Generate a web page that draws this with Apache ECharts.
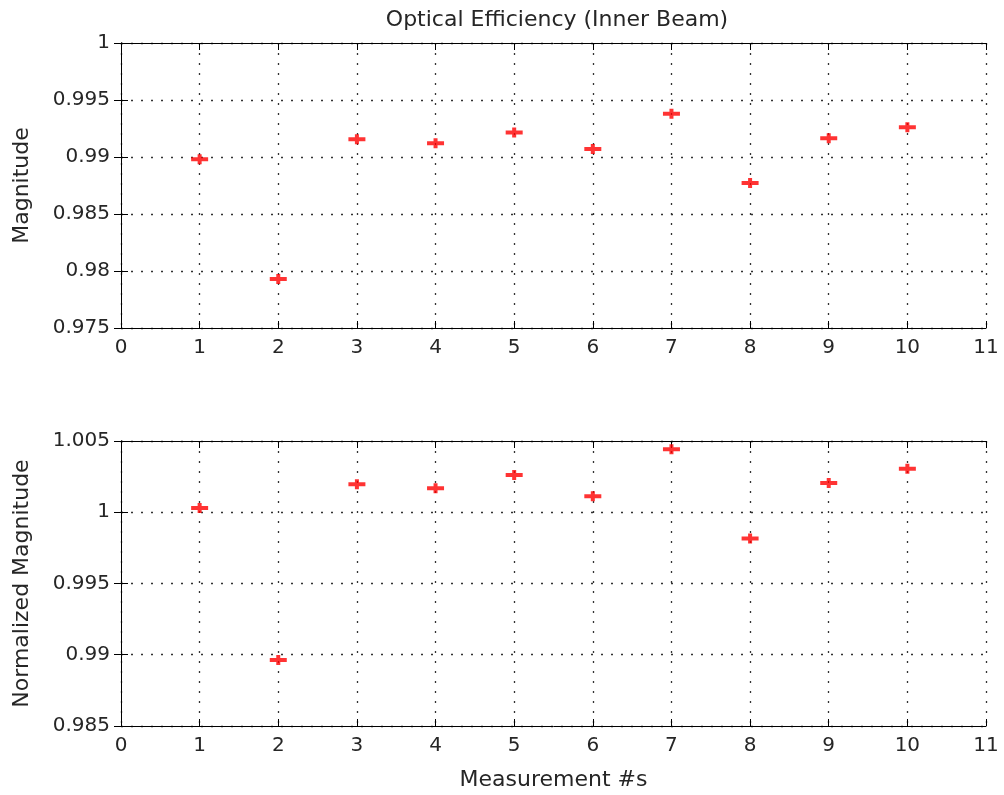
<!DOCTYPE html>
<html>
<head>
<meta charset="utf-8">
<script src="https://cdn.jsdelivr.net/npm/echarts@6/dist/echarts.min.js"></script>
<style>
  html, body { margin: 0; padding: 0; background: #fff; }
  #main { width: 1004px; height: 795px; }
</style>
</head>
<body>
<div id="main"></div>
<script>
// measurement numbers
var measurements = [1, 2, 3, 4, 5, 6, 7, 8, 9, 10];
// optical efficiency, inner beam
var magnitude = [0.9898, 0.9793, 0.99155, 0.9912, 0.99215, 0.9907, 0.9938, 0.98772, 0.99165, 0.9926];
// normalized to the mean
var normalized = [1.0003, 0.98963, 1.00197, 1.00168, 1.00262, 1.00112, 1.00442, 0.99815, 1.00205, 1.00305];

var txt = '#262626';
var font = 'DejaVu Sans';
// red marker with small error bar
var marker = 'path://M0,3 L6.5,3 L6.5,0 L10.5,0 L10.5,3 L17,3 L17,7 L10.5,7 L10.5,10 L6.5,10 L6.5,7 L0,7 Z';

function fmt(v) {
  return String(parseFloat(v.toFixed(4)));
}

function pairs(ys) {
  return measurements.map(function (x, i) { return [x, ys[i]]; });
}

var axisLine = { show: true, lineStyle: { color: '#000', width: 1 } };
var tick = { show: true, inside: true, length: 7, lineStyle: { color: '#000' } };
var grid = { show: true, lineStyle: { color: '#333', width: 1.3, type: [2, 8] } };
var lbl = { color: txt, fontFamily: font, fontSize: 20 };
var nameLbl = { color: txt, fontFamily: font, fontSize: 22 };

function xAxes(gi, withName) {
  return [{
    type: 'value', gridIndex: gi, min: 0, max: 11, interval: 1,
    position: 'bottom',
    axisLine: axisLine, axisTick: tick, splitLine: grid,
    axisLabel: Object.assign({ margin: 10 }, lbl),
    name: withName ? 'Measurement #s' : '',
    nameLocation: 'middle', nameGap: 43,
    nameTextStyle: nameLbl
  }, {
    type: 'value', gridIndex: gi, min: 0, max: 11, interval: 1,
    position: 'top',
    axisLine: axisLine, axisTick: tick, splitLine: { show: false },
    axisLabel: { show: false }
  }];
}

function yAxes(gi, min, max, name) {
  return [{
    type: 'value', gridIndex: gi, min: min, max: max, interval: 0.005,
    position: 'left',
    axisLine: axisLine, axisTick: tick, splitLine: grid,
    axisLabel: Object.assign({ margin: 11, formatter: fmt }, lbl),
    name: name, nameLocation: 'middle', nameGap: 88,
    nameTextStyle: nameLbl
  }, {
    type: 'value', gridIndex: gi, min: min, max: max, interval: 0.005,
    position: 'right',
    axisLine: axisLine, axisTick: tick, splitLine: { show: false },
    axisLabel: { show: false }
  }];
}

var myChart = echarts.init(document.getElementById('main'));
myChart.setOption({
  animation: false,
  backgroundColor: '#fff',
  title: {
    text: 'Optical Efficiency (Inner Beam)',
    left: 552, top: 4, textAlign: 'center',
    textStyle: { color: txt, fontFamily: font, fontSize: 22, fontWeight: 'normal' }
  },
  grid: [
    { left: 121, top: 43, width: 865, height: 285 },
    { left: 121, top: 441, width: 865, height: 285 }
  ],
  xAxis: xAxes(0, false).concat(xAxes(1, true)),
  yAxis: yAxes(0, 0.975, 1, 'Magnitude').concat(yAxes(1, 0.985, 1.005, 'Normalized Magnitude')),
  series: [{
    type: 'scatter', xAxisIndex: 0, yAxisIndex: 0,
    symbol: marker, symbolSize: [17, 10],
    itemStyle: { color: '#ff0000' },
    data: pairs(magnitude)
  }, {
    type: 'scatter', xAxisIndex: 2, yAxisIndex: 2,
    symbol: marker, symbolSize: [17, 10],
    itemStyle: { color: '#ff0000' },
    data: pairs(normalized)
  }]
});
</script>
</body>
</html>
